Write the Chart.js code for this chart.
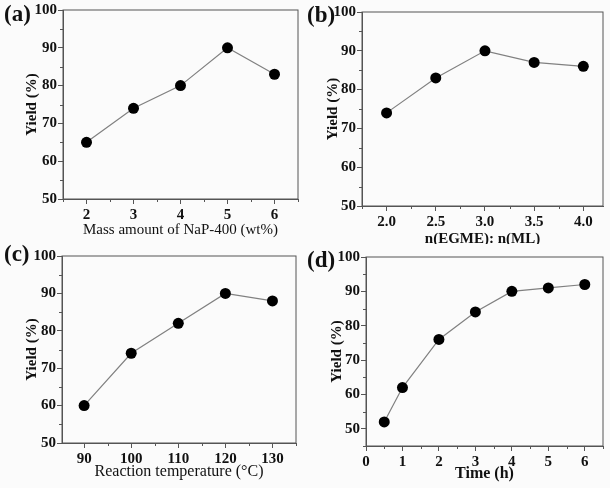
<!DOCTYPE html>
<html>
<head>
<meta charset="utf-8">
<script src="https://cdn.jsdelivr.net/npm/chart.js@4.4.1/dist/chart.umd.min.js"></script>
<style>
  body { margin: 0; background: #fbfbfb; }
  #wrap { position: relative; width: 610px; height: 488px; }
  canvas { position: absolute; }
  .lbl { position: absolute; font: bold 23px "Liberation Serif", serif; line-height: 23px; color: #111; }
</style>
</head>
<body>
<div id="wrap">
  <canvas id="ca" width="305" height="244" style="left:0;top:0"></canvas>
  <canvas id="cb" width="305" height="244" style="left:305px;top:0"></canvas>
  <canvas id="cc" width="305" height="244" style="left:0;top:244px"></canvas>
  <canvas id="cd" width="305" height="244" style="left:305px;top:244px"></canvas>
  <div class="lbl" style="left:4px;top:2px">(a)</div>
  <div class="lbl" style="left:307px;top:3px">(b)</div>
  <div class="lbl" style="left:4px;top:242px">(c)</div>
  <div class="lbl" style="left:307px;top:248px">(d)</div>
</div>
<script>
// (a) catalyst loading
const massAmount = [2, 3, 4, 5, 6];
const yieldA = [65, 74, 80, 90, 83];
const xTicksA = [2, 3, 4, 5, 6];
const xLabelsA = ['2', '3', '4', '5', '6'];

// (b) molar ratio
const molarRatio = [2.0, 2.5, 3.0, 3.5, 4.0];
const yieldB = [74, 83, 90, 87, 86];
const xTicksB = [2.0, 2.5, 3.0, 3.5, 4.0];
const xLabelsB = ['2.0', '2.5', '3.0', '3.5', '4.0'];

// (c) temperature
const temperature = [90, 100, 110, 120, 130];
const yieldC = [60, 74, 82, 90, 88];
const xTicksC = [90, 100, 110, 120, 130];
const xLabelsC = ['90', '100', '110', '120', '130'];

// (d) time
const timeH = [0.5, 1, 2, 3, 4, 5, 6];
const yieldD = [52, 62, 76, 84, 90, 91, 92];
const xTicksD = [0, 1, 2, 3, 4, 5, 6];
const xLabelsD = ['0', '1', '2', '3', '4', '5', '6'];

const yTicks = [50, 60, 70, 80, 90, 100];
const yLabels = ['50', '60', '70', '80', '90', '100'];

const axisColor = '#555';
const textColor = '#111';
Chart.defaults.font.family = '"Liberation Serif", "Times New Roman", serif';

// frame on top/right + short minor ticks half way between the majors
const framePlugin = {
    id: 'frame',
    afterDraw(chart) {
        const ctx = chart.ctx;
        const { left, top, right, bottom } = chart.chartArea;
        const xs = chart.scales.x, ys = chart.scales.y;
        ctx.save();
        ctx.strokeStyle = axisColor;
        ctx.lineWidth = 1;
        ctx.strokeRect(left, top, right - left, bottom - top);
        const mx = chart.options.plugins.frame.xTicks;
        const my = chart.options.plugins.frame.yTicks;
        ctx.beginPath();
        const stepX = mx[1] - mx[0];
        for (let v = mx[0] - stepX / 2; v <= xs.max; v += stepX) {
            if (v < xs.min) continue;
            const px = Math.round(xs.getPixelForValue(v)) + 0.5;
            ctx.moveTo(px, bottom);
            ctx.lineTo(px, bottom + 3);
        }
        const stepY = my[1] - my[0];
        for (let v = my[0] - stepY / 2; v <= ys.max; v += stepY) {
            if (v < ys.min) continue;
            const py = Math.round(ys.getPixelForValue(v)) + 0.5;
            ctx.moveTo(left, py);
            ctx.lineTo(left - 3, py);
        }
        ctx.stroke();
        ctx.restore();
    }
};

function makeChart(id, xs, ys, xTicks, xLabels, p) {
    const W = 305, H = 244;
    new Chart(document.getElementById(id), {
        type: 'line',
        data: {
            datasets: [{
                data: xs.map((x, i) => ({ x: x, y: ys[i] })),
                borderColor: '#808080',
                borderWidth: 1.2,
                pointRadius: 5.5,
                pointBackgroundColor: '#000',
                pointBorderColor: '#000',
                pointBorderWidth: 0,
                tension: 0
            }]
        },
        options: {
            responsive: false,
            animation: false,
            layout: { padding: { left: 0, top: p.T, right: W - p.R, bottom: 0 } },
            plugins: {
                legend: { display: false },
                tooltip: { enabled: false },
                frame: { xTicks: xTicks, yTicks: yTicks }
            },
            scales: {
                x: {
                    type: 'linear',
                    min: p.xmin,
                    max: p.xmax,
                    afterBuildTicks: s => { s.ticks = xTicks.map(v => ({ value: v })); },
                    afterFit: s => { s.height = H - p.B; },
                    grid: { drawOnChartArea: false, tickLength: 5, color: axisColor, tickColor: axisColor },
                    border: { color: axisColor, width: 1 },
                    ticks: {
                        padding: 2, color: textColor, maxRotation: 0,
                        font: { size: 15, weight: 'bold' },
                        callback: (v, i) => xLabels[i]
                    },
                    title: {
                        display: true, text: p.xTitle, color: textColor,
                        font: { size: p.xSize, weight: p.xBold ? 'bold' : 'normal' },
                        padding: { bottom: H - p.xt - p.xSize * 0.6 }
                    }
                },
                y: {
                    min: p.ymin,
                    max: 100,
                    afterBuildTicks: s => { s.ticks = yTicks.map(v => ({ value: v })); },
                    afterFit: s => { s.width = p.L; },
                    grid: { drawOnChartArea: false, tickLength: 5, color: axisColor, tickColor: axisColor },
                    border: { color: axisColor, width: 1 },
                    ticks: {
                        padding: 1, color: textColor,
                        font: { size: 15, weight: 'bold' },
                        callback: (v, i) => yLabels[i]
                    },
                    title: {
                        display: true, text: 'Yield (%)', color: textColor,
                        font: { size: 15, weight: 'bold' },
                        padding: { top: p.yt - 9 }
                    }
                }
            }
        },
        plugins: [framePlugin]
    });
}

makeChart('ca', massAmount, yieldA, xTicksA, xLabelsA,
    { L: 63, T: 10, R: 298, B: 199, xmin: 1.5, xmax: 6.5, ymin: 50, xt: 230, yt: 32,
      xTitle: 'Mass amount of NaP-400 (wt%)', xSize: 15, xBold: false });
makeChart('cb', molarRatio, yieldB, xTicksB, xLabelsB,
    { L: 57, T: 12, R: 298, B: 206, xmin: 1.75, xmax: 4.2, ymin: 50, xt: 239, yt: 28,
      xTitle: 'n(EGME): n(ML)', xSize: 15, xBold: true });
makeChart('cc', temperature, yieldC, xTicksC, xLabelsC,
    { L: 62, T: 12, R: 296, B: 199, xmin: 85.3, xmax: 135, ymin: 50, xt: 228, yt: 32,
      xTitle: 'Reaction temperature (\u00B0C)', xSize: 16, xBold: false });
makeChart('cd', timeH, yieldD, xTicksD, xLabelsD,
    { L: 61, T: 13, R: 298, B: 202, xmin: 0, xmax: 6.5, ymin: 45, xt: 230, yt: 32,
      xTitle: 'Time (h)', xSize: 16, xBold: true });
</script>
</body>
</html>
